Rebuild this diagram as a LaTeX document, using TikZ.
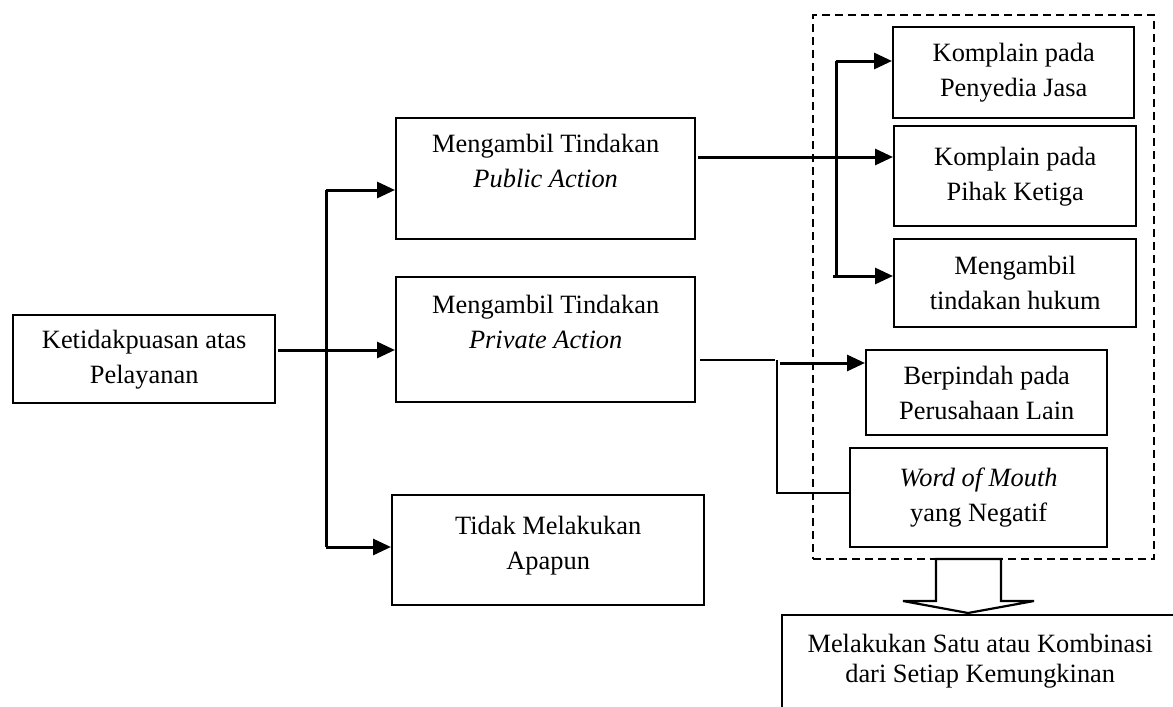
\documentclass[tikz,border=0pt]{standalone}
\usepackage{fontspec}
\setmainfont{Liberation Serif}
\usetikzlibrary{arrows.meta}
\tikzset{
  kotak/.style={draw, line width=2.4pt, align=center, anchor=north west, inner sep=0pt,
    font=\fontsize{26.4}{35}\selectfont},
  panah/.style={line width=3pt, -{Triangle[length=18pt,width=16pt]}},
  garis/.style={line width=3pt},
  tipis/.style={line width=2.2pt},
}
\begin{document}
\begin{tikzpicture}[x=1pt,y=-1pt]
  \useasboundingbox (0,0) rectangle (1173,707);
  \clip (0,0) rectangle (1173,707);

  \node[kotak, minimum width=262pt, minimum height=88pt] (puas) at (12,314) {Ketidakpuasan atas\\Pelayanan};
  \node[kotak, minimum width=299pt, minimum height=121pt] (publik) at (395,117) {Mengambil Tindakan\\\textit{Public Action}\\~};
  \node[kotak, minimum width=299pt, minimum height=125pt] (privat) at (395,276) {Mengambil Tindakan\\\textit{Private Action}\\~};
  \node[kotak, minimum width=312pt, minimum height=110pt, text depth=14pt] (tidak) at (391,494) {Tidak Melakukan\\Apapun};

  \node[draw, dashed, line width=1.8pt, dash pattern=on 8pt off 5pt, anchor=north west, inner sep=0pt,
    minimum width=341pt, minimum height=544pt] (grup) at (812,14) {};
  \node[kotak, minimum width=241pt, minimum height=91pt] (penyedia) at (892,26) {Komplain pada\\Penyedia Jasa};
  \node[kotak, minimum width=242pt, minimum height=100pt] (pihak) at (893,125) {Komplain pada\\Pihak Ketiga};
  \node[kotak, minimum width=242pt, minimum height=88pt] (hukum) at (893,238) {Mengambil\\tindakan hukum};
  \node[kotak, minimum width=241pt, minimum height=85pt] (pindah) at (865,349) {Berpindah pada\\Perusahaan Lain};
  \node[kotak, minimum width=257pt, minimum height=99pt] (wom) at (849,447) {\textit{Word of Mouth}\\yang Negatif};
  \node[kotak, minimum width=396pt, minimum height=116pt, font=\fontsize{26.4}{30}\selectfont] (hasil) at (781,614)
    {Melakukan Satu atau Kombinasi\\dari Setiap Kemungkinan\\~};

  \coordinate (a1) at (278,350);
  \draw[panah] (a1) -- (a1 -| privat.west);
  \coordinate (b1) at (326,190);
  \coordinate (b2) at (326,547);
  \draw[garis] (b1) -- (b2);
  \draw[panah] (b1) -- (b1 -| publik.west);
  \draw[panah] (b2) -- (b2 -| tidak.west);

  \coordinate (c1) at (698,157);
  \draw[panah] (c1) -- (c1 -| pihak.west);
  \coordinate (d1) at (836,61);
  \coordinate (d2) at (836,276);
  \draw[garis] (d1) -- (d2);
  \draw[panah] (d1) -- (d1 -| penyedia.west);
  \draw[panah] ([xshift=-3pt]d2) -- (d2 -| hukum.west);

  \coordinate (e0) at (700,360);
  \coordinate (e1) at (777,360);
  \coordinate (e2) at (777,493);
  \draw[tipis] (e0) -- ([xshift=-2pt]e1);
  \draw[tipis] (e1) -- (e2) -- (e2 -| wom.west);
  \coordinate (e3) at (780,363);
  \draw[panah] (e3) -- (e3 -| pindah.west);

  \draw[tipis, fill=white] (936,559) -- (936,601) -- (903,601) -- (968,613) -- (1034,601) -- (1001,601) -- (1001,559) -- cycle;
\end{tikzpicture}
\end{document}
